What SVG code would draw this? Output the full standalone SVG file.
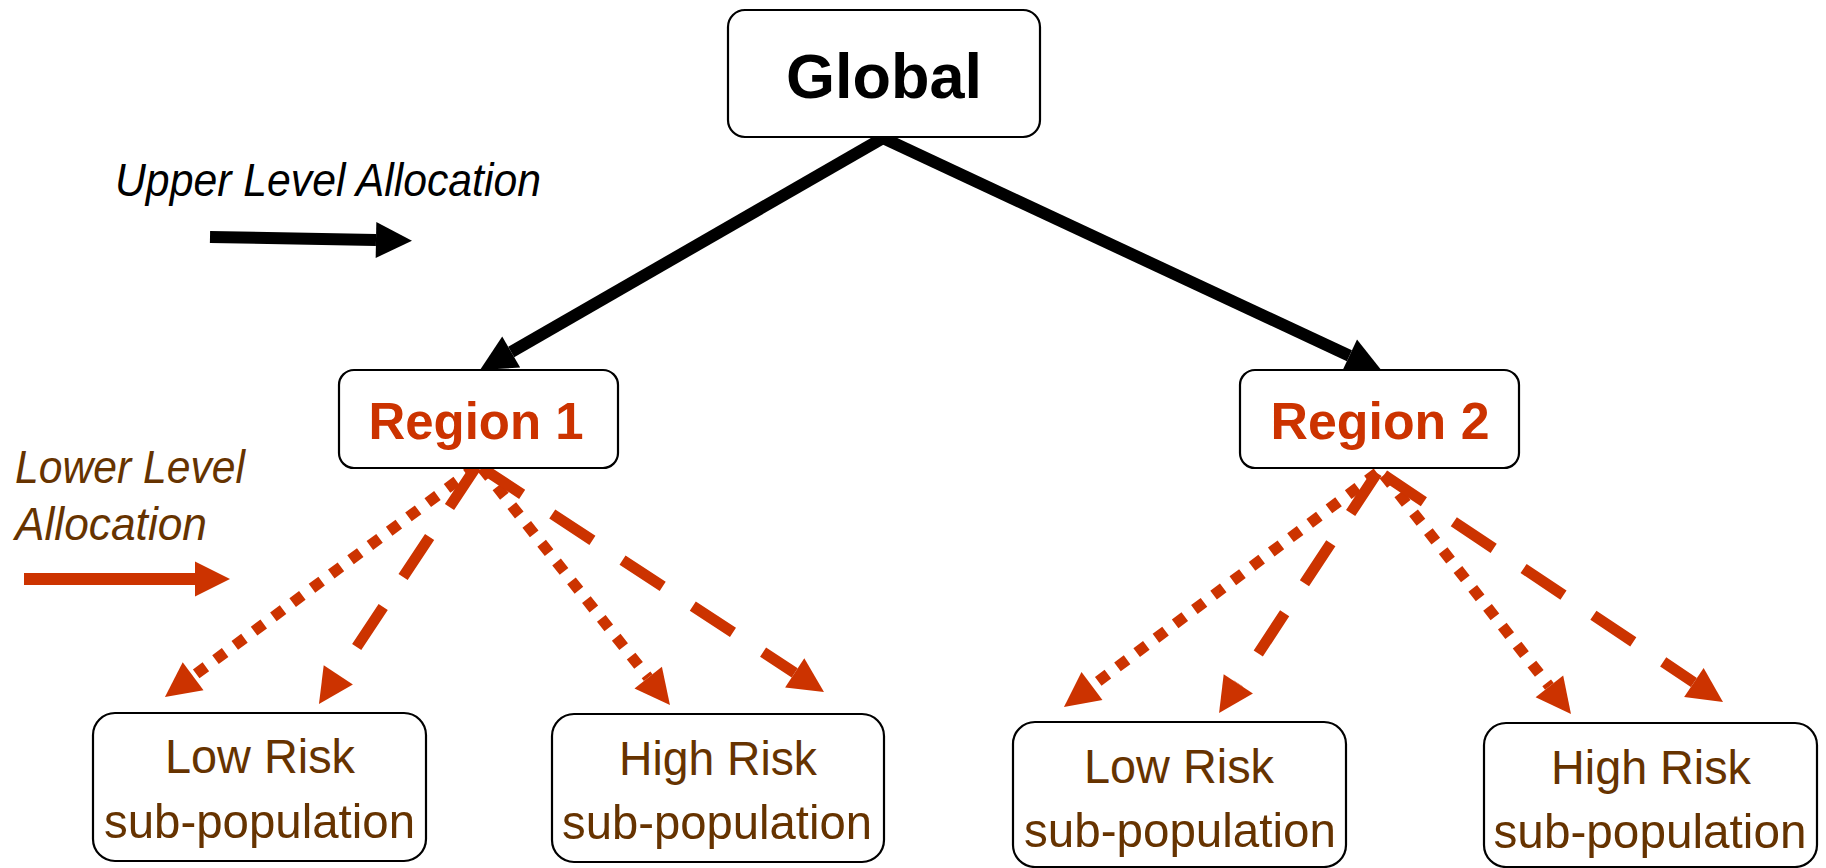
<svg xmlns="http://www.w3.org/2000/svg" width="1826" height="868" viewBox="0 0 1826 868">
<style>
.box{fill:#fff;stroke:#000;stroke-width:2.2}
.t-global{font-family:"Liberation Sans",Arial,sans-serif;font-weight:bold;font-size:63px;fill:#000;text-anchor:middle}
.t-region{font-family:"Liberation Sans",Arial,sans-serif;font-weight:bold;font-size:52px;fill:#CC3300;text-anchor:middle}
.t-sub{font-family:"Liberation Sans",Arial,sans-serif;font-size:49px;fill:#663300;text-anchor:middle}
.t-legend{font-family:"Liberation Sans",Arial,sans-serif;font-style:italic;font-size:46px}
.blk{stroke:#000;stroke-width:12;fill:none}
.red{stroke:#CC3300;stroke-width:11;fill:none}
.dot{stroke-dasharray:12 12}
.dash{stroke-dasharray:48 36}
</style>
<defs>
<marker id="hb" markerUnits="userSpaceOnUse" viewBox="0 -20 40 40" refX="0" refY="0" markerWidth="40" markerHeight="40" orient="auto" overflow="visible">
<path d="M0,-18 L36,0 L0,18 Z" fill="#000"/>
</marker>
<marker id="hr" markerUnits="userSpaceOnUse" viewBox="0 -20 40 40" refX="0" refY="0" markerWidth="40" markerHeight="40" orient="auto" overflow="visible">
<path d="M0,-17.5 L35,0 L0,17.5 Z" fill="#CC3300"/>
</marker>
</defs>

<g id="legend">
<text class="t-legend" x="115" y="196" textLength="426" lengthAdjust="spacingAndGlyphs" fill="#000">Upper Level Allocation</text>
<line class="blk" x1="210" y1="237" x2="376" y2="240" marker-end="url(#hb)"/>
<text class="t-legend" x="15" y="483" textLength="230" lengthAdjust="spacingAndGlyphs" fill="#663300">Lower Level</text>
<text class="t-legend" x="15" y="540" textLength="192" lengthAdjust="spacingAndGlyphs" fill="#663300">Allocation</text>
<line x1="24" y1="579" x2="195" y2="579" stroke="#CC3300" stroke-width="12" marker-end="url(#hr)"/>
</g>

<g id="connectors">
<line class="blk" x1="883" y1="138" x2="511.2" y2="352" marker-end="url(#hb)"/>
<line class="blk" x1="883" y1="138" x2="1349.4" y2="355.8" marker-end="url(#hb)"/>

<line class="red dot" x1="476" y1="467" x2="193.1" y2="676.2" marker-end="url(#hr)"/>
<line class="red dash" x1="476" y1="467" x2="338.3" y2="674.8" marker-end="url(#hr)"/>
<line class="red dot" x1="482" y1="468" x2="648.2" y2="677.6" marker-end="url(#hr)"/>
<line class="red dash" x1="482" y1="468" x2="794.7" y2="672.8" marker-end="url(#hr)"/>

<line class="red dot" x1="1377" y1="473" x2="1092" y2="686" marker-end="url(#hr)"/>
<line class="red dash" x1="1377" y1="473" x2="1238.3" y2="683.8" marker-end="url(#hr)"/>
<line class="red dot" x1="1384" y1="475" x2="1549.4" y2="686.4" marker-end="url(#hr)"/>
<line class="red dash" x1="1384" y1="475" x2="1693.9" y2="682.5" marker-end="url(#hr)"/>
</g>

<g id="node-global">
<rect class="box" x="728" y="10" width="312" height="127" rx="17"/>
<text class="t-global" x="884" y="98">Global</text>
</g>

<g id="node-region1">
<rect class="box" x="339" y="370" width="279" height="98" rx="15"/>
<text class="t-region" x="476" y="439" textLength="215" lengthAdjust="spacingAndGlyphs">Region 1</text>
</g>

<g id="node-region2">
<rect class="box" x="1240" y="370" width="279" height="98" rx="15"/>
<text class="t-region" x="1380" y="439" textLength="219" lengthAdjust="spacingAndGlyphs">Region 2</text>
</g>

<g id="node-r1-low">
<rect class="box" x="93" y="713" width="333" height="148" rx="22"/>
<text class="t-sub" x="260" y="773" textLength="190" lengthAdjust="spacingAndGlyphs">Low Risk</text>
<text class="t-sub" x="259.5" y="838" textLength="311" lengthAdjust="spacingAndGlyphs">sub-population</text>
</g>

<g id="node-r1-high">
<rect class="box" x="552" y="714" width="332" height="148" rx="22"/>
<text class="t-sub" x="718" y="775" textLength="198" lengthAdjust="spacingAndGlyphs">High Risk</text>
<text class="t-sub" x="717" y="839" textLength="310" lengthAdjust="spacingAndGlyphs">sub-population</text>
</g>

<g id="node-r2-low">
<rect class="box" x="1013" y="722" width="333" height="145" rx="22"/>
<text class="t-sub" x="1179" y="783" textLength="190" lengthAdjust="spacingAndGlyphs">Low Risk</text>
<text class="t-sub" x="1180" y="847" textLength="312" lengthAdjust="spacingAndGlyphs">sub-population</text>
</g>

<g id="node-r2-high">
<rect class="box" x="1484" y="723" width="333" height="144" rx="22"/>
<text class="t-sub" x="1651" y="784" textLength="200" lengthAdjust="spacingAndGlyphs">High Risk</text>
<text class="t-sub" x="1650" y="848" textLength="313" lengthAdjust="spacingAndGlyphs">sub-population</text>
</g>
</svg>
